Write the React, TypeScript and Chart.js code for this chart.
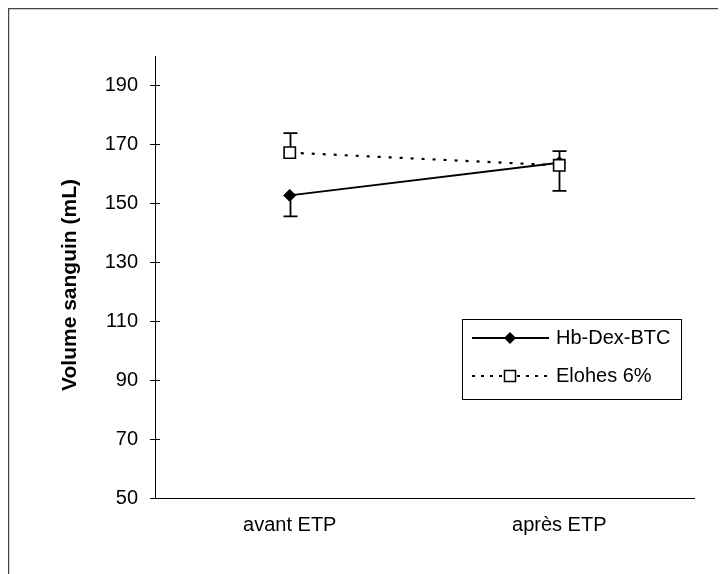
import React, { useEffect, useRef } from "react";
import { Chart, registerables } from "chart.js";

Chart.register(...registerables);

const categories = ["avant ETP", "après ETP"];
const seriesNames = ["Hb-Dex-BTC", "Elohes 6%"];
const hbDexValues = [152.7, 163.8];
const elohesValues = [167.2, 162.9];
const hbDexErrMinus = [7.1, 9.6];
const elohesErrPlus = [6.6, 4.8];
const yTickValues = [50, 70, 90, 110, 130, 150, 170, 190];
const yMin = 50;
const yMax = 200;
const yTitle = "Volume sanguin (mL)";

const FONT = "'Liberation Sans', Arial, sans-serif";
const W = 718;
const H = 566;

const errorBarPlugin = {
  id: "errorBars",
  beforeDatasetsDraw(chart: any) {
    const ctx = chart.ctx;
    const yScale = chart.scales.y;
    chart.data.datasets.forEach((ds: any, i: number) => {
      const meta = chart.getDatasetMeta(i);
      meta.data.forEach((pt: any, j: number) => {
        const v = ds.data[j];
        const segs: number[] = [];
        if (ds.errMinus) segs.push(v - ds.errMinus[j]);
        if (ds.errPlus) segs.push(v + ds.errPlus[j]);
        segs.forEach((end) => {
          const y0 = yScale.getPixelForValue(v);
          const y1 = yScale.getPixelForValue(end);
          const x = Math.round(pt.x) + 0.5;
          ctx.save();
          ctx.strokeStyle = "#000";
          ctx.lineWidth = 1.8;
          ctx.beginPath();
          ctx.moveTo(x, y0);
          ctx.lineTo(x, y1);
          ctx.moveTo(x - 7, y1);
          ctx.lineTo(x + 7, y1);
          ctx.stroke();
          ctx.restore();
        });
      });
    });
  },
};

const decorPlugin = {
  id: "decor",
  afterDraw(chart: any) {
    const ctx = chart.ctx;
    const yScale = chart.scales.y;
    const area = chart.chartArea;
    ctx.save();
    // outer frame (top & left, as in the scan)
    ctx.strokeStyle = "#444";
    ctx.lineWidth = 1.5;
    ctx.beginPath();
    ctx.moveTo(0.5, H);
    ctx.lineTo(0.5, 0.5);
    ctx.lineTo(W, 0.5);
    ctx.stroke();

    // inner half of crossing ticks
    ctx.strokeStyle = "#000";
    ctx.lineWidth = 1;
    yScale.ticks.forEach((t: any) => {
      const y = Math.round(yScale.getPixelForValue(t.value)) + 0.5;
      ctx.beginPath();
      ctx.moveTo(area.left, y);
      ctx.lineTo(area.left + 5, y);
      ctx.stroke();
    });

    // y title
    ctx.save();
    ctx.translate(62, 277);
    ctx.rotate(-Math.PI / 2);
    ctx.font = `bold 21px ${FONT}`;
    ctx.fillStyle = "#000";
    ctx.textAlign = "center";
    ctx.textBaseline = "middle";
    ctx.fillText(yTitle, 0, 0);
    ctx.restore();

    // legend box
    const bx = 454.5, by = 311.5, bw = 219, bh = 80;
    ctx.strokeStyle = "#000";
    ctx.lineWidth = 1;
    ctx.strokeRect(bx, by, bw, bh);
    const rows = [330, 368];
    chart.data.datasets.forEach((ds: any, i: number) => {
      const y = rows[i];
      ctx.save();
      ctx.strokeStyle = "#000";
      ctx.lineWidth = 2;
      if (ds.borderDash && ds.borderDash.length) ctx.setLineDash([3, 6]);
      ctx.beginPath();
      ctx.moveTo(464, y);
      ctx.lineTo(541, y);
      ctx.stroke();
      ctx.setLineDash([]);
      ctx.beginPath();
      if (ds.pointStyle === "rectRot") {
        ctx.moveTo(502, y - 6);
        ctx.lineTo(508, y);
        ctx.lineTo(502, y + 6);
        ctx.lineTo(496, y);
        ctx.closePath();
        ctx.fillStyle = "#000";
        ctx.fill();
      } else {
        ctx.fillStyle = "#fff";
        ctx.lineWidth = 1.5;
        ctx.rect(496.5, y - 5.5, 11, 11);
        ctx.fill();
        ctx.stroke();
      }
      ctx.restore();
      ctx.font = `20px ${FONT}`;
      ctx.fillStyle = "#000";
      ctx.textAlign = "left";
      ctx.textBaseline = "middle";
      ctx.fillText(ds.label, 548, y);
    });
    ctx.restore();
  },
};

export default function App() {
  const ref = useRef<HTMLCanvasElement>(null);
  useEffect(() => {
    if (!ref.current) return;
    const chart = new Chart(ref.current, {
      type: "line",
      data: {
        labels: categories,
        datasets: [
          {
            label: seriesNames[0],
            data: hbDexValues,
            errMinus: hbDexErrMinus,
            borderColor: "#000",
            backgroundColor: "#000",
            borderWidth: 2,
            pointStyle: "rectRot",
            pointRadius: 6,
            pointBorderWidth: 1,
            pointBackgroundColor: "#000",
            pointBorderColor: "#000",
            order: 1,
          } as any,
          {
            label: seriesNames[1],
            data: elohesValues,
            errPlus: elohesErrPlus,
            borderColor: "#000",
            backgroundColor: "#fff",
            borderWidth: 2.2,
            borderDash: [3, 8],
            pointStyle: "rect",
            pointRadius: 8,
            pointBorderWidth: 1.6,
            pointBackgroundColor: "#fff",
            pointBorderColor: "#000",
            order: 0,
          } as any,
        ],
      },
      options: {
        responsive: false,
        animation: false,
        layout: { padding: { left: 0, top: 48, right: 32, bottom: 0 } },
        plugins: { legend: { display: false }, tooltip: { enabled: false } },
        scales: {
          x: {
            type: "category",
            offset: true,
            afterFit: (s: any) => {
              s.height = 76;
            },
            grid: { display: false, drawTicks: false },
            border: { display: true, color: "#000", width: 1 },
            ticks: {
              color: "#000",
              padding: 15,
              font: { family: FONT, size: 20 },
            },
          },
          y: {
            type: "linear",
            min: yMin,
            max: yMax,
            afterFit: (s: any) => {
              s.width = 147;
            },
            afterBuildTicks: (s: any) => {
              s.ticks = yTickValues.map((v) => ({ value: v }));
            },
            grid: {
              display: true,
              drawOnChartArea: false,
              drawTicks: true,
              tickLength: 5,
              color: "#000",
            },
            border: { display: true, color: "#000", width: 1 },
            ticks: {
              color: "#000",
              padding: 12,
              font: { family: FONT, size: 20 },
            },
          },
        },
      },
      plugins: [errorBarPlugin, decorPlugin],
    });
    return () => chart.destroy();
  }, []);
  return (
    <div style={{ width: W, height: H }}>
      <canvas ref={ref} width={W} height={H} style={{ display: "block" }} />
    </div>
  );
}
